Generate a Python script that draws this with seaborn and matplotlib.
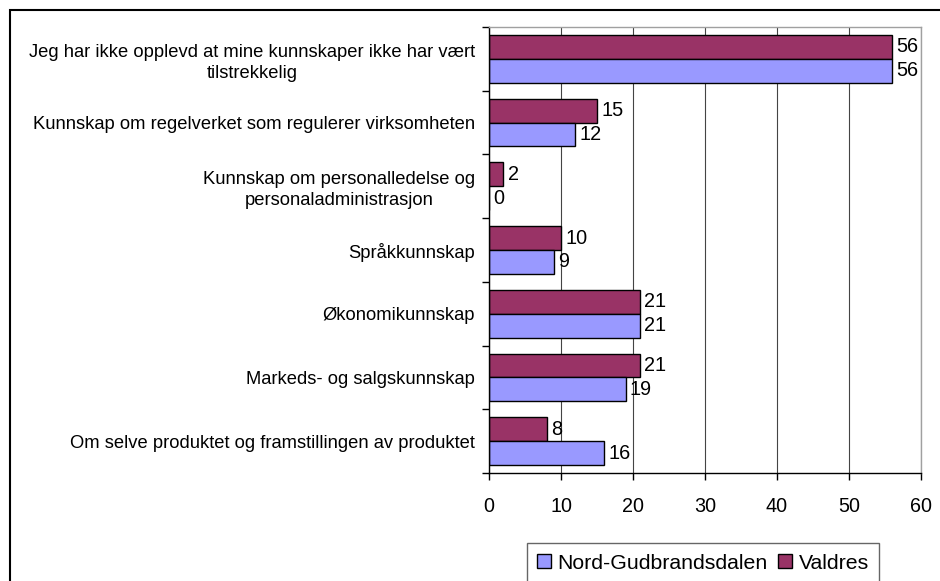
import matplotlib
matplotlib.use("Agg")
import matplotlib.pyplot as plt
from matplotlib.patches import Patch, Rectangle
import seaborn as sns
import pandas as pd
import numpy as np

categories = [
    "Jeg har ikke opplevd at mine kunnskaper ikke har vært\ntilstrekkelig",
    "Kunnskap om regelverket som regulerer virksomheten",
    "Kunnskap om personalledelse og\npersonaladministrasjon",
    "Språkkunnskap",
    "Økonomikunnskap",
    "Markeds- og salgskunnskap",
    "Om selve produktet og framstillingen av produktet",
]
valdres = [56, 15, 2, 10, 21, 21, 8]
nord_gudbrandsdalen = [56, 12, 0, 9, 21, 19, 16]
series_names = ["Nord-Gudbrandsdalen", "Valdres"]
x_ticks = [0, 10, 20, 30, 40, 50, 60]

colors = {"Nord-Gudbrandsdalen": "#9999FF", "Valdres": "#993366"}

df = pd.DataFrame({
    "Kategori": categories * 2,
    "Region": ["Valdres"] * len(categories) + ["Nord-Gudbrandsdalen"] * len(categories),
    "Verdi": valdres + nord_gudbrandsdalen,
})

sns.set_style("white")
plt.rcParams["font.family"] = ["Liberation Sans", "DejaVu Sans"]
plt.rcParams["text.color"] = "black"
plt.rcParams["xtick.color"] = "black"
plt.rcParams["ytick.color"] = "black"
plt.rcParams["xtick.labelcolor"] = "black"
plt.rcParams["ytick.labelcolor"] = "black"

fig = plt.figure(figsize=(9.4, 5.81), dpi=100)
ax = fig.add_axes([489 / 940, 1 - 473 / 581, 432 / 940, 446 / 581])

sns.barplot(data=df, y="Kategori", x="Verdi", hue="Region", order=categories,
            hue_order=["Valdres", "Nord-Gudbrandsdalen"], palette=colors,
            width=0.75, edgecolor="black", linewidth=1.0, orient="h",
            errorbar=None, ax=ax, legend=False, saturation=1)

for cont in ax.containers:
    ax.bar_label(cont, fmt="%d", padding=3, fontsize=14.3, color="black")

ax.set_xlim(0, 60)
ax.set_ylim(len(categories) - 0.5, -0.5)
ax.set_xticks(x_ticks)
ax.set_xticklabels([str(t) for t in x_ticks], fontsize=14.2, color="black")
ax.set_yticks(range(len(categories)))
ax.set_yticklabels(categories, fontsize=13.2, multialignment="center", linespacing=1.3, color="black")
ax.set_yticks(np.arange(-0.5, len(categories), 1.0), minor=True)
ax.tick_params(axis="y", which="major", length=0, pad=10)
ax.tick_params(axis="y", which="minor", length=5, width=1, color="black", direction="out", left=True)
ax.tick_params(axis="x", which="major", length=5, width=1, color="black", direction="out", bottom=True, pad=12)
ax.set_xlabel("")
ax.set_ylabel("")
ax.grid(axis="x", color="#444444", linewidth=0.8)
ax.grid(axis="y", visible=False)
ax.set_axisbelow(True)
for side in ["left", "bottom"]:
    ax.spines[side].set_color("black")
    ax.spines[side].set_linewidth(1.0)
for side in ["right", "top"]:
    ax.spines[side].set_color("#a0a0a0")
    ax.spines[side].set_linewidth(1.0)

handles = [Patch(facecolor=colors[n], edgecolor="black", linewidth=1.0, label=n) for n in series_names]
leg = fig.legend(handles=handles, loc="upper center", bbox_to_anchor=(703 / 940, 1 - 543 / 581),
                 bbox_transform=fig.transFigure, ncol=2, fontsize=15.3, frameon=True,
                 fancybox=False, handlelength=0.65, handleheight=0.65, handletextpad=0.3,
                 columnspacing=0.5, borderpad=0.5, borderaxespad=0)
leg.get_frame().set_edgecolor("#404040")
leg.get_frame().set_linewidth(1.0)
for t in leg.get_texts():
    t.set_color("black")

fig.patches.append(Rectangle((10 / 940, -0.1), 1.2, (1 - 10 / 581) + 0.1, transform=fig.transFigure,
                             fill=False, edgecolor="black", linewidth=1.5))

fig.savefig("out.png", dpi=100)
